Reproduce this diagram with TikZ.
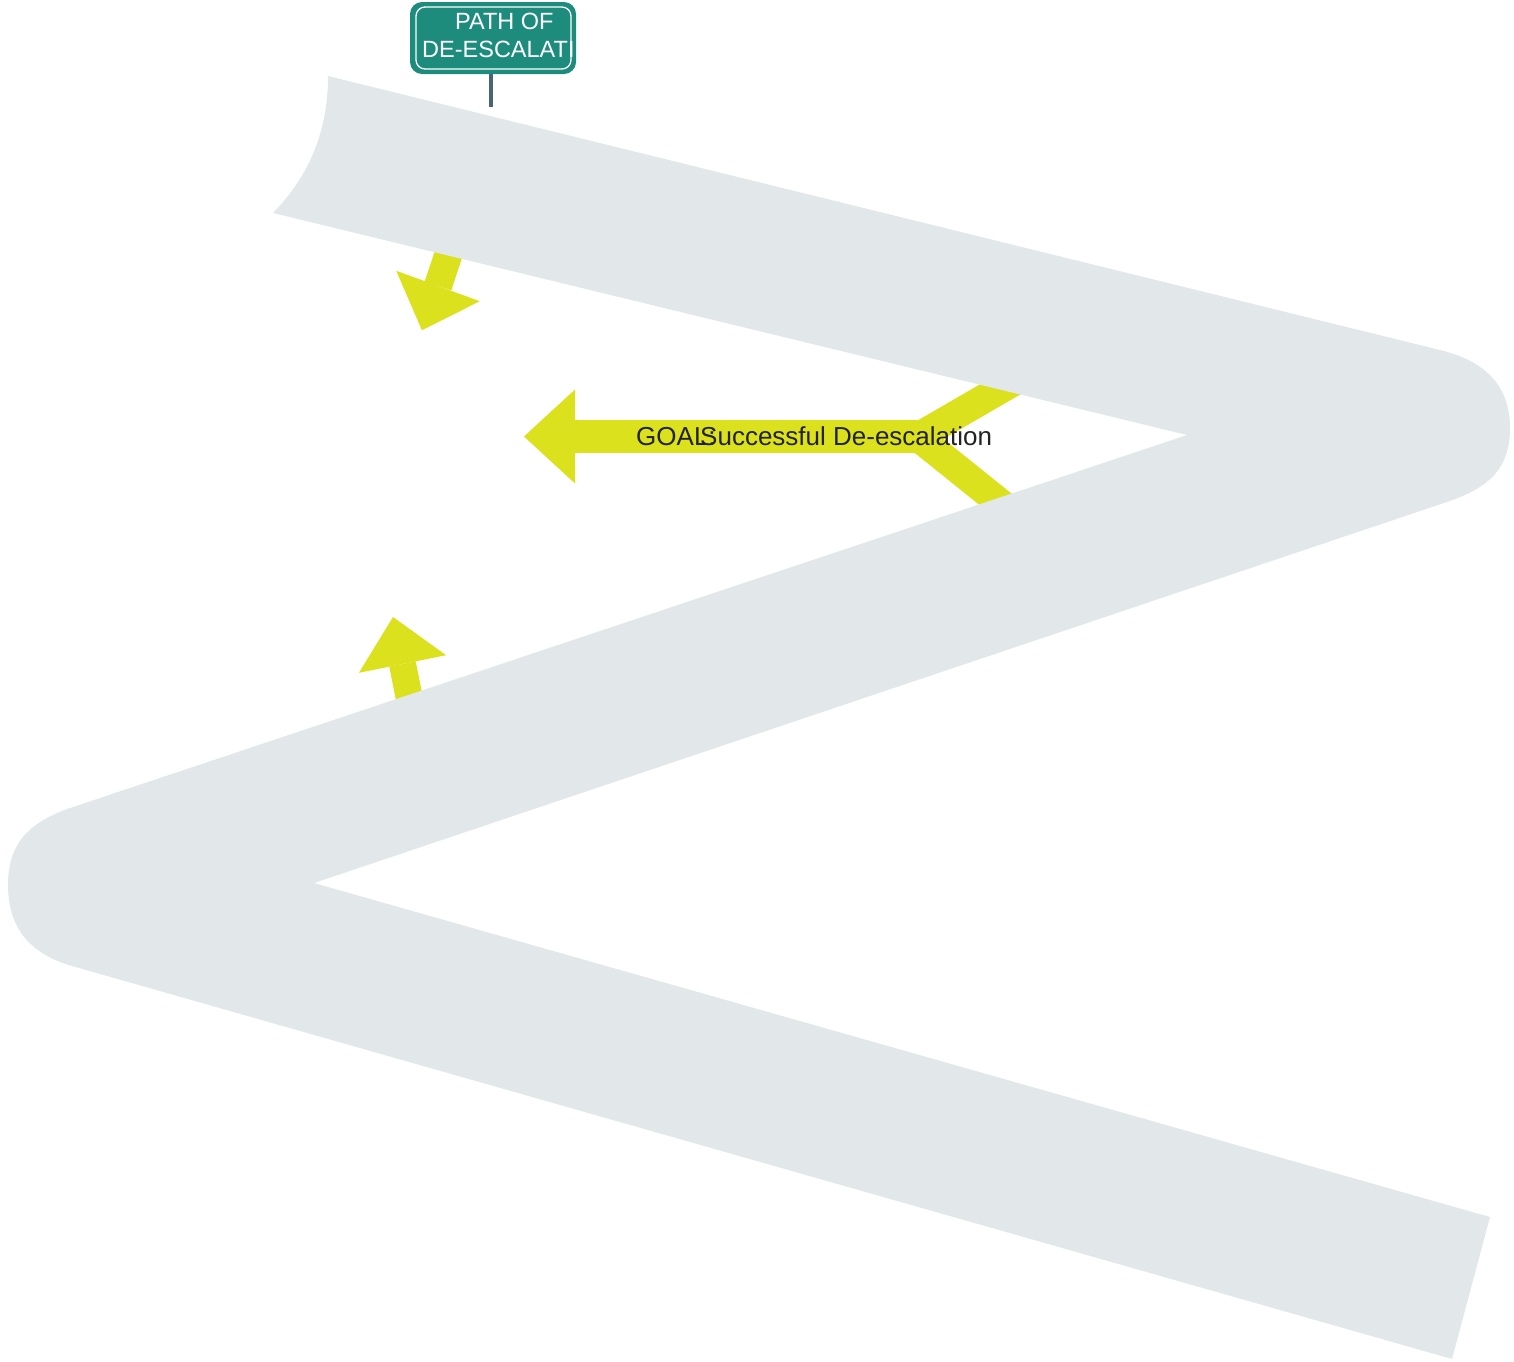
\documentclass[tikz,border=0pt]{standalone}
\usepackage{fontspec}
\usetikzlibrary{calc}
\setmainfont{Liberation Sans}
\definecolor{roadgray}{HTML}{E2E8EA}
\definecolor{arrowyellow}{HTML}{DCE11E}
\definecolor{signteal}{HTML}{1E8C7C}
\definecolor{postslate}{HTML}{4A6470}
\definecolor{textdark}{HTML}{222222}
\tikzset{
  yshaft/.style={draw=arrowyellow, line cap=butt, line join=miter},
  yhead/.style={fill=arrowyellow},
  roadfill/.style={fill=roadgray},
  signtext/.style={text=white, font=\fontsize{23.5}{28}\selectfont, inner sep=0pt, anchor=base west},
  goaltext/.style={text=textdark, font=\fontsize{26}{31}\selectfont, inner sep=0pt, anchor=base west}
}
\begin{document}
\begin{tikzpicture}[x=1pt,y=-1pt]
\useasboundingbox (0,0) rectangle (1514,1361);
% ---- yellow arrows (under the road) ----
% arrow 1 (top-left, pointing down)
\coordinate (a1s) at (467.5,196.6);
\coordinate (a1b) at (438,286);
\draw[yshaft, line width=28pt] (a1s) -- (a1b);
\fill[yhead] (479.8,301.2) -- (421.9,330.2) -- (396.2,270.8) -- cycle;
% arrow 2 (lower-left, pointing up)
\coordinate (a2s) at (420,752);
\coordinate (a2b) at (402.5,664);
\draw[yshaft, line width=27pt] (a2s) -- (a2b);
\fill[yhead] (446.1,655.2) -- (393,617) -- (358.9,672.8) -- cycle;
% goal arrow with fork
\coordinate (fu) at (1056,357);
\coordinate (fj) at (918,437);
\coordinate (fl) at (1035,531);
\coordinate (fjs) at (930,436.5);
\coordinate (gb) at (575,436.5);
\draw[yshaft, line width=29pt] (fu) -- (fj) -- (fl);
\draw[yshaft, line width=33pt] (fjs) -- (gb);
\fill[yhead] (575,389.5) -- (524,436.5) -- (575,483.5) -- cycle;
% ---- road ----
\fill[roadfill] (328,76) -- (1440,350)
  .. controls (1490,362) and (1510,390) .. (1510,428)
  .. controls (1510,466) and (1492,487) .. (1447,502)
  -- (314,883) -- (1490,1217) -- (1452,1359) -- (72,966)
  .. controls (27,953) and (8,925) .. (8,885)
  .. controls (8,845) and (27,823) .. (70,808)
  -- (1187,435) -- (273,213)
  .. controls (310,175) and (328,130) .. cycle;
% ---- sign ----
\draw[postslate, line width=4.5pt] (491,72) -- (491,107);
\fill[signteal, rounded corners=12pt] (410,2) rectangle (576,74);
\draw[white, line width=1.3pt, rounded corners=9pt] (416,7) rectangle (571,69);
\begin{scope}
\clip (414,4) rectangle (573,72);
\node[signtext] (sign1) at (455,29) {PATH OF};
\node[signtext] (sign2) at (422,57) {DE-ESCALATION};
\end{scope}
% ---- goal text ----
\node[goaltext] (goal) at (636,445) {GOAL:};
\node[goaltext] (succ) at (700,445) {Successful De-escalation};
\end{tikzpicture}
\end{document}
